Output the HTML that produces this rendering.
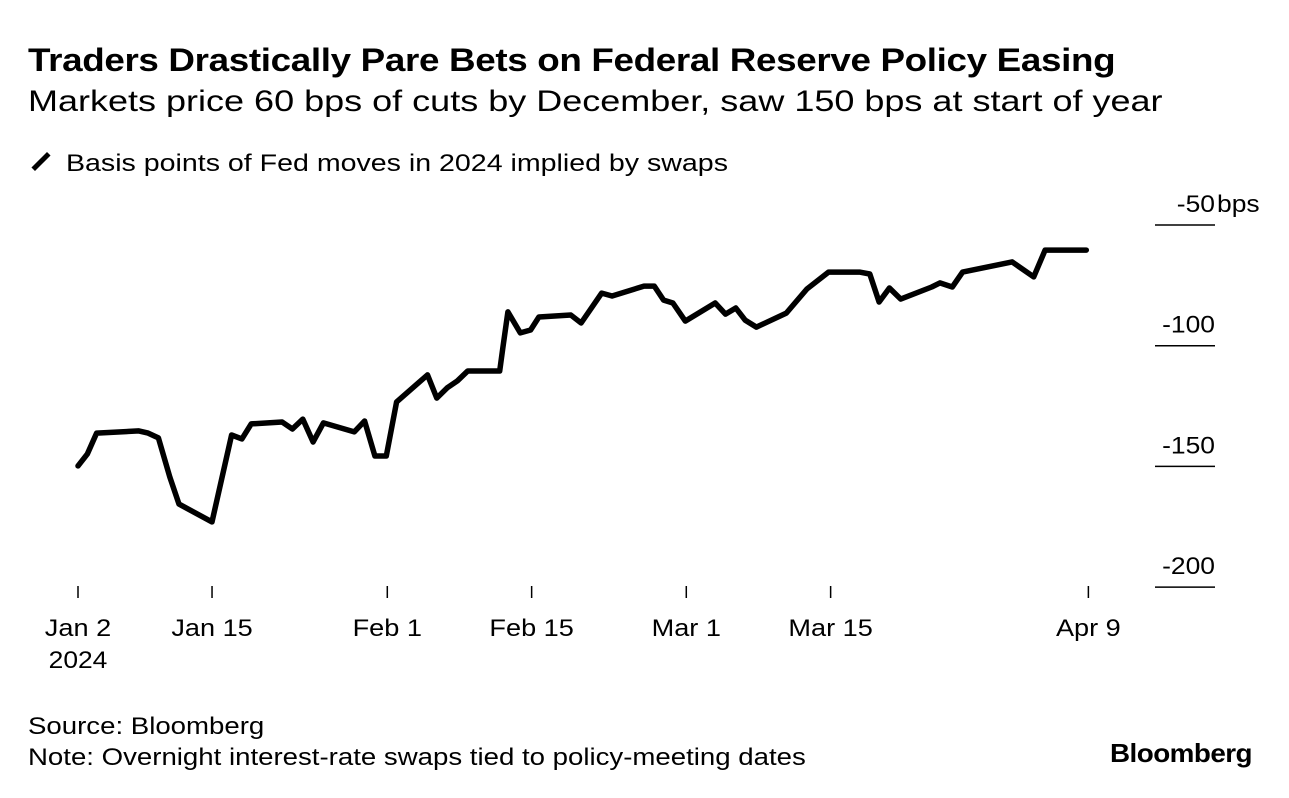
<!DOCTYPE html>
<html><head><meta charset="utf-8"><style>
body{margin:0;background:#fff;font-family:"Liberation Sans",sans-serif;color:#000}
#wrap{position:relative;width:1289px;height:798px;overflow:hidden}
.t{position:absolute;white-space:nowrap;transform-origin:0 0}
</style></head><body>
<div id="wrap">
<div class="t" style="left:28px;top:42px;font-size:32px;font-weight:bold;letter-spacing:-0.3px;transform:scaleX(1.15)">Traders Drastically Pare Bets on Federal Reserve Policy Easing</div>
<div class="t" style="left:28px;top:85px;font-size:30px;transform:scaleX(1.2)">Markets price 60 bps of cuts by December, saw 150 bps at start of year</div>
<div class="t" style="left:30px;top:150px;font-size:24px"><span style="display:inline-block;width:22px;height:5px;background:#000;transform:rotate(-45deg);vertical-align:middle;margin-right:14px;position:relative;top:-3px"></span><span style="display:inline-block;transform:scaleX(1.19);transform-origin:0 0">Basis points of Fed moves in 2024 implied by swaps</span></div>
<svg id="chart" width="1289" height="798" style="position:absolute;left:0;top:0"></svg>
<div class="t" style="left:28px;top:713px;font-size:24px;transform:scaleX(1.15)">Source: Bloomberg</div>
<div class="t" style="left:28px;top:744px;font-size:24px;transform:scaleX(1.15)">Note: Overnight interest-rate swaps tied to policy-meeting dates</div>
<div class="t" style="left:1110px;top:738px;font-size:26px;font-weight:bold;letter-spacing:-0.5px;transform:scaleX(1.07)">Bloomberg</div>
</div>
<script>
const days=[0,0.9,1.8,5.9,6.8,7.8,8.9,9.8,13,14.9,15.9,16.8,19.8,20.8,21.8,22.8,23.8,26.8,27.8,28.8,29.9,30.9,33.9,34.8,35.8,36.8,37.8,40.9,41.2,41.7,42.9,43.9,44.7,47.8,48.8,50.8,51.8,54.9,55.9,56.8,57.7,58.9,61.8,62.8,63.8,64.7,65.8,68.7,70.7,72.8,75.8,76.8,77.7,78.7,79.8,82.8,83.6,84.8,85.8,90.6,92.7,93.8,97.8];
const values=[-149.8,-144.9,-136.2,-135.3,-136.2,-138.2,-154.4,-165.6,-173,-137,-138.6,-132.4,-131.6,-134.5,-130.4,-139.9,-132,-135.7,-131.2,-145.7,-145.7,-123.3,-112.1,-121.7,-117.5,-114.6,-110.5,-110.5,-101,-86,-94.7,-93.5,-88.1,-87.3,-90.6,-78.2,-79.4,-75.3,-75.3,-81.1,-82.3,-89.8,-82.3,-86.9,-84.4,-89.4,-92.3,-86.5,-76.5,-69.5,-69.5,-70.3,-81.9,-76.1,-80.7,-75.7,-74,-75.7,-69.5,-65.3,-71.5,-60.4,-60.4];
const yTicks=[-50,-100,-150,-200];
const yTickLabels=["-50","-100","-150","-200"];
const xTickDays=[0,13,30,44,59,73,98];
const xTickLabels=["Jan 2","Jan 15","Feb 1","Feb 15","Mar 1","Mar 15","Apr 9"];
const NS="http://www.w3.org/2000/svg";
const svg=document.getElementById('chart');
const X=d=>78+d*10.31;
const Y=v=>225+(-50-v)*2.414;
function mk(t,a){const e=document.createElementNS(NS,t);for(const k in a)e.setAttribute(k,a[k]);svg.appendChild(e);return e;}
function stretch(t,f){const w=t.getComputedTextLength();t.setAttribute('textLength',(w*f).toFixed(1));t.setAttribute('lengthAdjust','spacingAndGlyphs');}
yTicks.forEach((v,i)=>{
 const l=mk('line',{x1:1155,x2:1215,y1:Y(v),y2:Y(v),stroke:'#000','stroke-width':1.5});
 
 
 const t=mk('text',{x:1215,y:Y(v)-13,'text-anchor':'end','font-size':24,'font-family':'Liberation Sans, sans-serif'});
 t.textContent=yTickLabels[i];
 
 
 stretch(t,1.1);
});
const u=mk('text',{x:1217,y:Y(-50)-13,'font-size':24,'font-family':'Liberation Sans, sans-serif'});u.textContent='bps';


stretch(u,1.1);
xTickDays.forEach((d,i)=>{
 const l=mk('line',{x1:X(d),x2:X(d),y1:586,y2:598,stroke:'#000','stroke-width':1.5});
 
 
 const t=mk('text',{x:X(d),y:636,'text-anchor':'middle','font-size':24,'font-family':'Liberation Sans, sans-serif'});
 t.textContent=xTickLabels[i];
 
 
 stretch(t,1.13);
});
const yr=mk('text',{x:X(0),y:668,'text-anchor':'middle','font-size':24,'font-family':'Liberation Sans, sans-serif'});yr.textContent='2024';


stretch(yr,1.1);
const p=mk('path',{d:days.map((d,i)=>(i?'L':'M')+X(d).toFixed(1)+','+Y(values[i]).toFixed(1)).join(''),fill:'none',stroke:'#000','stroke-width':5.5,'stroke-linejoin':'round','stroke-linecap':'round'});


</script>
</body></html>
